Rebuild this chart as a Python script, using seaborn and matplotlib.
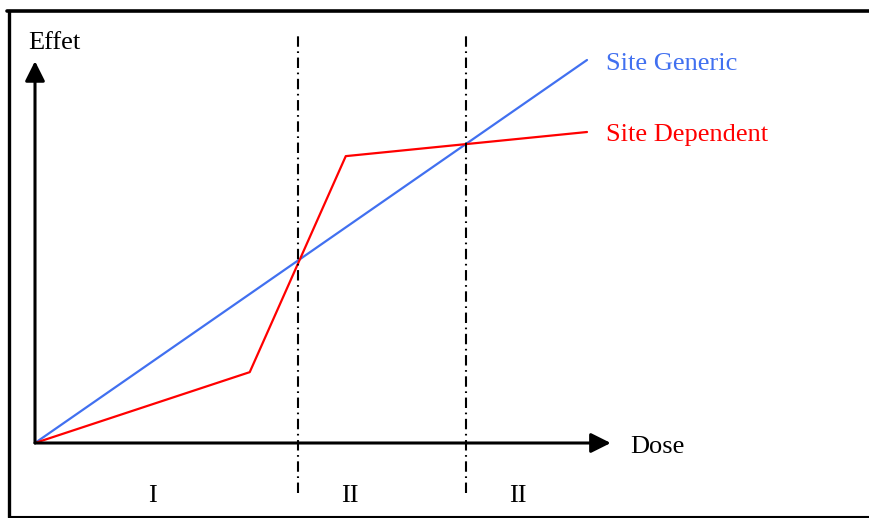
import pandas as pd
import numpy as np
import seaborn as sns
import matplotlib.pyplot as plt
from matplotlib.lines import Line2D

# data (arbitrary dose / effect units)
generic_dose = [0, 10]
generic_effect = [0, 10]
dependent_dose = [0, 3.89, 5.63, 10]
dependent_effect = [0, 1.85, 7.49, 8.12]
zone_limits = [4.76, 7.81]
zone_names = ["I", "II", "II"]
zone_centers = [2.13, 5.71, 8.75]

df = pd.concat([
    pd.DataFrame({"Dose": generic_dose, "Effet": generic_effect, "site": "Site Generic"}),
    pd.DataFrame({"Dose": dependent_dose, "Effet": dependent_effect, "site": "Site Dependent"}),
])
colors = {"Site Generic": "#4170F0", "Site Dependent": "#FF0000"}

sns.set_style("white")
plt.rcParams['font.family'] = ['Liberation Serif', 'DejaVu Serif']
plt.rcParams['text.color'] = 'black'

fig = plt.figure(figsize=(8.69, 5.18), dpi=100)
ax = fig.add_axes([0, 0, 1, 1])

sns.lineplot(data=df, x="Dose", y="Effet", hue="site", palette=colors,
             sort=False, estimator=None, linewidth=1.6, legend=False, ax=ax)

ax.set_xlim(-35 / 55.2, (869 - 35) / 55.2)
ax.set_ylim(-(518 - 443) / 38.3, 443 / 38.3)
ax.axis("off")

# zone separators
for x in zone_limits:
    ax.plot([x, x], [-1.31, 10.65], color="black", lw=1.5,
            linestyle=(0, (5, 2.2, 0.8, 2.2)))

# axes arrows
arrow = dict(arrowstyle="-|>,head_length=0.6,head_width=0.3", mutation_scale=20,
             color="black", lw=2.2, shrinkA=0, shrinkB=0)
ax.annotate("", xy=(10.43, 0), xytext=(0, 0), arrowprops=arrow)
ax.annotate("", xy=(0, 9.97), xytext=(0, 0), arrowprops=arrow)

fs = 19
ax.text(-0.12, 10.45, "Effet", fontsize=fs, va="center", ha="left")
ax.text(10.78, -0.1, "Dose", fontsize=fs, va="center", ha="left")
ax.text(10.35, 9.9, "Site Generic", fontsize=fs, color=colors["Site Generic"], va="center")
ax.text(10.35, 8.05, "Site Dependent", fontsize=fs, color=colors["Site Dependent"], va="center")
for name, cx in zip(zone_names, zone_centers):
    ax.text(cx, -1.38, name, fontsize=fs, ha="center", va="center")

# outer frame
fig.add_artist(Line2D([7.3 / 869, 1], [1 - 10.5 / 518] * 2, color="black", lw=2.6,
                      transform=fig.transFigure))
fig.add_artist(Line2D([8.5 / 869] * 2, [1 - 10.5 / 518, 1 - 517 / 518], color="black", lw=2.4,
                      transform=fig.transFigure))
fig.add_artist(Line2D([8.5 / 869, 1], [1 - 516.5 / 518] * 2, color="black", lw=1.5,
                      transform=fig.transFigure))

fig.savefig("out.png", dpi=100)
